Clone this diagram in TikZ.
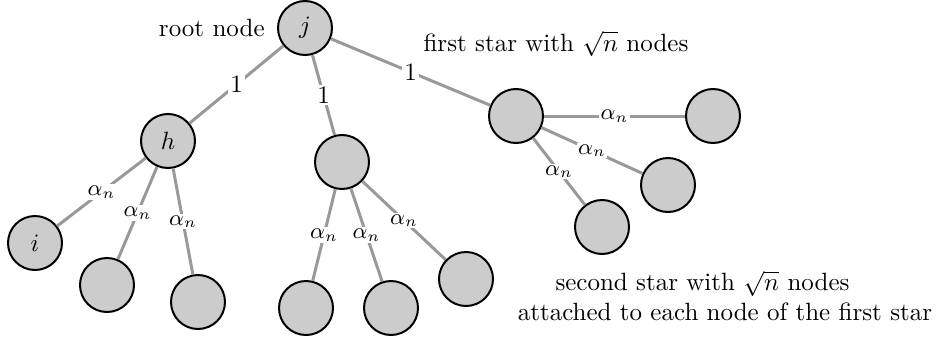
\documentclass[tikz,border=0pt]{standalone}
\usepackage{amsmath,amssymb}
\usetikzlibrary{positioning}
\tikzset{
  vertex/.style={
    circle,
    draw=black,
    thick,
    fill=gray!40,
    minimum size=21.6pt,
    inner sep=0pt
  },
  edge/.style={draw=gray!80, line width=1.2pt},
  onelabel/.style={fill=white, inner sep=0.8pt},
  alphalabel/.style={fill=white, inner sep=0.6pt, font=\small}
}

\begin{document}
\begin{tikzpicture}[x=0.4pt, y=-0.4pt]
    \useasboundingbox (0,0) rectangle (938,340);
    % root and first star
    \node[vertex] (j) at (305,28) {$j$};
    \node[vertex] (h) at (168,141) {$h$};
    \node[vertex] (mid) at (342,162) {};
    \node[vertex] (far) at (516,116) {};
    % children of h
    \node[vertex] (i) at (35,243) {$i$};
    \node[vertex] (h2) at (107,285) {};
    \node[vertex] (h3) at (198,302) {};
    % children of the middle node
    \node[vertex] (mid1) at (306,308) {};
    \node[vertex] (mid2) at (391,308) {};
    \node[vertex] (mid3) at (466,279) {};
    % children of the far node
    \node[vertex] (far1) at (713,116) {};
    \node[vertex] (far2) at (668,185) {};
    \node[vertex] (far3) at (602,227) {};
    % texts
    \node[left=0.05cm of j] (rootlabel) {root node};
    \node (firstlabel) at (556,44) {first star with $\sqrt{n}$ nodes};
    \node[align=center] (secondlabel) at (725,296) {second star with $\sqrt{n}$ nodes\hspace*{18pt}\\attached to each node of the first star};
    % edges
    \draw[edge] (j) -- node[onelabel] {1} (h);
    \draw[edge] (j) -- node[onelabel] {1} (mid);
    \draw[edge] (j) -- node[onelabel] {1} (far);
    \draw[edge] (h) -- node[alphalabel] {$\alpha_n$} (i);
    \draw[edge] (h) -- node[alphalabel] {$\alpha_n$} (h2);
    \draw[edge] (h) -- node[alphalabel] {$\alpha_n$} (h3);
    \draw[edge] (mid) -- node[alphalabel] {$\alpha_n$} (mid1);
    \draw[edge] (mid) -- node[alphalabel] {$\alpha_n$} (mid2);
    \draw[edge] (mid) -- node[alphalabel] {$\alpha_n$} (mid3);
    \draw[edge] (far) -- node[alphalabel] {$\alpha_n$} (far1);
    \draw[edge] (far) -- node[alphalabel] {$\alpha_n$} (far2);
    \draw[edge] (far) -- node[alphalabel] {$\alpha_n$} (far3);
  \end{tikzpicture}
\end{document}
